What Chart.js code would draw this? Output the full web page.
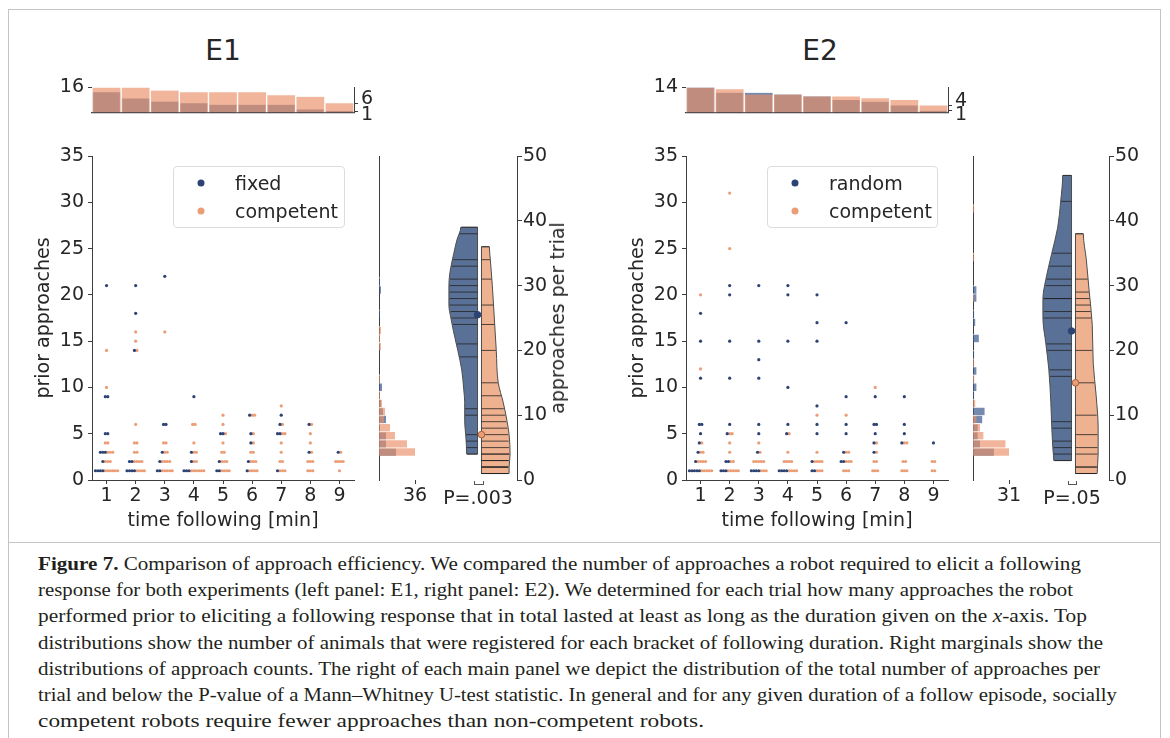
<!DOCTYPE html>
<html>
<head>
<meta charset="utf-8">
<script src="https://cdn.jsdelivr.net/npm/chart.js@4.4.1/dist/chart.umd.min.js"></script>
<style>
  html, body { margin:0; padding:0; background:#fff; }
  #fig { position:relative; width:1170px; height:738px; overflow:hidden; font-family:"DejaVu Sans", sans-serif; color:#262626; background:#fff; }
  #fig canvas { position:absolute; }
  .frame { position:absolute; left:8px; top:9px; width:1153px; height:780px; border:1px solid #c4c4c4; box-sizing:border-box; }
  .sep { position:absolute; left:8px; width:1153px; top:542px; height:1px; background:#c4c4c4; }
  .ptitle { position:absolute; font-size:28px; transform:translate(-50%,-50%); white-space:nowrap; }
  .lbl { position:absolute; font-size:19px; white-space:nowrap; transform:translate(-50%,-50%); }
  .vlbl { position:absolute; font-size:19px; white-space:nowrap; transform:translate(-50%,-50%) rotate(-90deg); }
  .legend { position:absolute; border:1px solid #dcdcdc; border-radius:4px; background:rgba(255,255,255,0.85); box-sizing:border-box; }
  .legend .dot { position:absolute; width:7px; height:7px; border-radius:50%; transform:translate(-50%,-50%); }
  .legend .txt { position:absolute; font-size:19px; transform:translateY(-50%); white-space:nowrap; }
  .bracket { position:absolute; height:4px; border:1px solid #555; border-top:none; box-sizing:border-box; }
  #caption { position:absolute; left:38px; top:551px; font-family:"Liberation Serif", serif; font-size:19.5px; line-height:26.2px; color:#231f20; }
  #caption .ln { white-space:nowrap; transform-origin:0 50%; display:block; width:max-content; }
</style>
</head>
<body>
<div id="fig">
  <div class="frame"></div>
  <div class="sep"></div>
  <div id="caption">
    <span class="ln"><b>Figure 7.</b> Comparison of approach efficiency. We compared the number of approaches a robot required to elicit a following</span>
    <span class="ln">response for both experiments (left panel: E1, right panel: E2). We determined for each trial how many approaches the robot</span>
    <span class="ln">performed prior to eliciting a following response that in total lasted at least as long as the duration given on the <i>x</i>-axis. Top</span>
    <span class="ln">distributions show the number of animals that were registered for each bracket of following duration. Right marginals show the</span>
    <span class="ln">distributions of approach counts. The right of each main panel we depict the distribution of the total number of approaches per</span>
    <span class="ln">trial and below the P-value of a Mann–Whitney U-test statistic. In general and for any given duration of a follow episode, socially</span>
    <span class="ln">competent robots require fewer approaches than non-competent robots.</span>
  </div>
</div>
<script>
// ================= DATA =================
const timeBins = [1, 2, 3, 4, 5, 6, 7, 8, 9];
const priorTicks = [0, 5, 10, 15, 20, 25, 30, 35];
const perTrialTicks = [0, 10, 20, 30, 40, 50];
const panelTitles = ['E1', 'E2'];
const seriesNamesE1 = ['fixed', 'competent'];
const seriesNamesE2 = ['random', 'competent'];
const pValueLabels = ['P=.003', 'P=.05'];

// prior approaches per registered animal, one list per time bin
const e1Fixed = [
  [21, 9, 9, 5, 5, 3, 3, 3, 2, 1, 1, 1, 1],
  [21, 18, 14, 2, 2, 1, 1, 1, 1],
  [22, 6, 6, 3, 2, 1, 1],
  [9, 3, 2, 1, 1, 1],
  [5, 5, 2, 1, 1],
  [7, 5, 4, 2, 1],
  [7, 6, 5, 5, 1],
  [6, 3],
  [3]
];
const e1Competent = [
  [14, 10, 4, 4, 3, 3, 3, 2, 2, 2, 1, 1, 1, 1, 1, 1],
  [16, 15, 14, 6, 4, 4, 3, 3, 2, 2, 2, 2, 1, 1, 1, 1],
  [16, 4, 4, 3, 3, 2, 2, 2, 2, 1, 1, 1, 1, 1],
  [6, 6, 4, 3, 3, 2, 2, 1, 1, 1, 1, 1, 1],
  [7, 6, 5, 4, 3, 3, 2, 2, 2, 1, 1, 1, 1],
  [7, 7, 5, 4, 3, 3, 2, 2, 2, 1, 1, 1, 1],
  [8, 6, 5, 5, 4, 3, 2, 2, 1, 1, 1],
  [6, 5, 4, 3, 2, 2, 2, 1, 1, 1],
  [3, 2, 2, 2, 2, 1]
];
const e2Random = [
  [18, 15, 11, 6, 6, 5, 4, 3, 2, 1, 1, 1, 1, 1],
  [21, 20, 15, 11, 6, 5, 2, 2, 1, 1, 1],
  [21, 15, 13, 11, 6, 5, 3, 1, 1, 1, 1],
  [21, 20, 15, 10, 6, 5, 1, 1, 1, 1],
  [20, 17, 15, 8, 6, 5, 2, 1, 1],
  [17, 9, 6, 5, 3, 2, 2],
  [9, 6, 6, 5, 4, 3],
  [9, 6, 5, 4],
  [4]
];
const e2Competent = [
  [20, 12, 4, 3, 3, 2, 2, 2, 2, 1, 1, 1, 1, 1],
  [31, 25, 5, 5, 4, 3, 2, 2, 1, 1, 1, 1, 1],
  [4, 3, 2, 2, 2, 2, 2, 1, 1, 1],
  [5, 3, 2, 2, 2, 2, 1, 1, 1, 1],
  [7, 3, 2, 2, 2, 2, 1, 1, 1],
  [7, 3, 3, 2, 2, 2, 1, 1, 1],
  [10, 4, 3, 2, 2, 1, 1, 1],
  [4, 4, 2, 2, 1, 1, 1],
  [2, 2, 1, 1]
];

// total approaches per trial (violin sticks)
const e1FixedTotals = [4, 5, 6, 7, 10, 11, 19, 21, 24, 25, 26, 27, 28, 29, 30, 31, 33, 34, 38, 39];
const e1CompetentTotals = [1, 1, 1, 2, 2, 2, 3, 3, 4, 4, 5, 6, 7, 8, 9, 10, 11, 13, 15, 20, 24, 27, 31, 34, 36];
const e2RandomTotals = [3, 4, 5, 6, 8, 9, 16, 17, 20, 21, 25, 26, 28, 28, 30, 31, 33, 35, 43, 47];
const e2CompetentTotals = [1, 1, 2, 2, 4, 5, 7, 10, 15, 20, 25, 26, 27, 28, 29, 31, 38];

// violin density profiles (level -> half width)
const e1FixedLevels = [4, 7, 9, 12, 14, 17, 20, 22, 25, 27, 30, 32, 35, 37, 39];
const e1FixedDensity = [11, 12, 13, 13, 14, 16, 20, 23, 27, 29, 29, 28, 24, 21, 17];
const e1CompetentLevels = [1, 2, 4, 7, 9, 12, 15, 20, 25, 30, 34, 36];
const e1CompetentDensity = [28, 28, 29, 28, 26, 22, 17, 15, 13, 11, 9, 8];
const e2RandomLevels = [3, 5, 8, 12, 17, 21, 25, 28, 31, 35, 39, 43, 47];
const e2RandomDensity = [18, 19, 20, 21, 23, 26, 29, 29, 26, 20, 14, 11, 9];
const e2CompetentLevels = [1, 4, 8, 13, 18, 24, 29, 34, 38];
const e2CompetentDensity = [22, 23, 23, 21, 18, 17, 14, 11, 8];

// ================= STYLE / LAYOUT =================
Chart.defaults.font.family = "'DejaVu Sans', sans-serif";
Chart.defaults.font.size = 19;
Chart.defaults.color = '#262626';
const AX = '#3d3d3d';
const COL = {
  blueDot: '#2d4373', orangeDot: '#eb9d75',
  blueBar: 'rgba(59,89,140,0.7)', orangeBar: 'rgba(232,142,100,0.65)', barEdge: 'rgba(255,255,255,0.6)',
  blueViolin: '#5a7197', orangeViolin: '#efb290', outline: '#4d4d4d', stick: 'rgba(35,35,35,0.8)',
  blueMed: '#2d4373', orangeMed: '#eb9d75', orangeMedEdge: '#a55f3c'
};
const AREA_TOP = 156, AREA_BOTTOM = 480, HIST_TOP = 86, HIST_BOTTOM = 120;
const SWARM_STEP = 0.085;
const fig = document.getElementById('fig');

function canvasAt(l, t, w, h) {
  const c = document.createElement('canvas');
  c.width = w; c.height = h;
  c.style.left = l + 'px'; c.style.top = t + 'px';
  c.style.width = w + 'px'; c.style.height = h + 'px';
  fig.appendChild(c);
  return c;
}
function html(cls, text, l, t, extra) {
  const d = document.createElement('div');
  d.className = cls; d.textContent = text;
  d.style.left = l + 'px'; d.style.top = t + 'px';
  if (extra) Object.assign(d.style, extra);
  fig.appendChild(d);
  return d;
}
function baseOpts() {
  return { responsive: false, animation: false, devicePixelRatio: 1, events: [],
           plugins: { legend: { display: false }, tooltip: { enabled: false } } };
}
function median(a) {
  const s = [...a].sort((p, q) => p - q), n = s.length;
  return n % 2 ? s[(n - 1) / 2] : (s[n / 2 - 1] + s[n / 2]) / 2;
}
function profileAt(lv, den, v) {
  if (v <= lv[0]) return den[0];
  for (let i = 1; i < lv.length; i++) {
    if (v <= lv[i]) { const f = (v - lv[i - 1]) / (lv[i] - lv[i - 1]); return den[i - 1] + f * (den[i] - den[i - 1]); }
  }
  return den[den.length - 1];
}
function valueCounts(bins) {
  const c = [];
  bins.forEach(b => b.forEach(v => { c[v] = (c[v] || 0) + 1; }));
  return c;
}
function swarm(blueBins, orangeBins) {
  const blue = [], orange = [];
  timeBins.forEach((t, i) => {
    const rows = {};
    blueBins[i].forEach(v => (rows[v] = rows[v] || []).push('b'));
    orangeBins[i].forEach(v => (rows[v] = rows[v] || []).push('o'));
    Object.keys(rows).forEach(k => {
      const r = rows[k], n = r.length;
      r.forEach((s, j) => {
        const p = { x: t + (j - (n - 1) / 2) * SWARM_STEP, y: +k };
        (s === 'b' ? blue : orange).push(p);
      });
    });
  });
  return { blue, orange };
}

// ---------- top histogram ----------
function topHistogram(areaL, areaR, blueBins, orangeBins) {
  const bc = blueBins.map(b => b.length), oc = orangeBins.map(b => b.length);
  const maxC = Math.max(...bc, ...oc);
  const minB = Math.min(...bc), minO = Math.min(...oc);
  const upper = Math.max(minB, minO);
  const L = 52, R = 40, T = 14, B = 8;
  const cv = canvasAt(areaL - L, HIST_TOP - T, L + (areaR - areaL) + R, T + (HIST_BOTTOM - HIST_TOP) + B);
  const barDs = (d, c) => ({ data: d, backgroundColor: c, borderColor: COL.barEdge,
    borderWidth: { left: 1, right: 1, top: 0, bottom: 0 }, borderSkipped: false, grouped: false, barPercentage: 1, categoryPercentage: 1 });
  new Chart(cv, {
    type: 'bar',
    data: { labels: timeBins.map(String), datasets: [barDs(oc, COL.orangeBar), barDs(bc, COL.blueBar)] },
    options: Object.assign(baseOpts(), {
      layout: { padding: { top: T, left: 0, right: 0, bottom: 0 } },
      scales: {
        x: { ticks: { display: false }, grid: { display: false }, border: { display: true, color: AX, width: 1.3 },
             afterFit: s => { s.height = B; } },
        y: { min: 0, max: maxC, afterBuildTicks: s => { s.ticks = [{ value: maxC }]; }, afterFit: s => { s.width = L; },
             ticks: { padding: 4, autoSkip: false }, grid: { display: true, drawOnChartArea: false, tickLength: 4, color: AX },
             border: { display: false } },
        y2: { position: 'right', min: 0, max: maxC, afterBuildTicks: s => { s.ticks = [{ value: minB }, { value: minO }]; },
              afterFit: s => { s.width = R; },
              ticks: { padding: 3, autoSkip: false, font: { size: 19, lineHeight: '9px' },
                       callback: v => v === upper ? [String(v), ''] : ['', String(v)] },
              grid: { display: true, drawOnChartArea: false, tickLength: 4, color: AX },
              border: { display: true, color: AX, width: 1 } }
      }
    })
  });
}

// ---------- main scatter ----------
function scatterPanel(areaL, areaR, blueBins, orangeBins) {
  const pts = swarm(blueBins, orangeBins);
  const L = 72, R = 16, T = 16, B = 60;
  const cv = canvasAt(areaL - L, AREA_TOP - T, L + (areaR - areaL) + R, T + (AREA_BOTTOM - AREA_TOP) + B);
  const ds = (d, c) => ({ data: d, backgroundColor: c, borderWidth: 0, pointRadius: 1.6, pointBorderWidth: 0 });
  new Chart(cv, {
    type: 'scatter',
    data: { datasets: [ds(pts.blue, COL.blueDot), ds(pts.orange, COL.orangeDot)] },
    options: Object.assign(baseOpts(), {
      layout: { padding: { top: T, right: R, left: 0, bottom: 0 } },
      scales: {
        x: { type: 'linear', min: 0.5, max: 9.5,
             afterBuildTicks: s => { s.ticks = timeBins.map(v => ({ value: v })); }, afterFit: s => { s.height = B; },
             ticks: { padding: 1, autoSkip: false, maxRotation: 0 },
             grid: { display: true, drawOnChartArea: false, tickLength: 4, color: AX },
             border: { display: true, color: AX, width: 1 },
             title: { display: true, text: 'time following [min]', padding: { top: 0, bottom: 7.6 } } },
        y: { min: 0, max: 35,
             afterBuildTicks: s => { s.ticks = priorTicks.map(v => ({ value: v })); }, afterFit: s => { s.width = L; },
             ticks: { padding: 4, autoSkip: false },
             grid: { display: true, drawOnChartArea: false, tickLength: 4, color: AX },
             border: { display: true, color: AX, width: 1 },
             title: { display: true, text: 'prior approaches', padding: { top: 12.6, bottom: 0 } } }
      }
    })
  });
}

// ---------- right marginal ----------
function marginalPanel(spineX, blueBins, orangeBins) {
  const bc = valueCounts(blueBins), oc = valueCounts(orangeBins);
  const maxV = Math.max(bc.length, oc.length) - 1;
  const ys = []; for (let v = 1; v <= maxV; v++) ys.push(v);
  const maxC = Math.max(...ys.map(v => Math.max(bc[v] || 0, oc[v] || 0)));
  const W = 40, R = 14, T = 16, B = 60;
  const cv = canvasAt(spineX, AREA_TOP - T, W + R, T + (AREA_BOTTOM - AREA_TOP) + B);
  const barDs = (cnt, c) => ({ data: ys.map(v => ({ x: cnt[v] || 0, y: v })), backgroundColor: c, borderColor: COL.barEdge,
    borderWidth: { top: 1, bottom: 0, left: 0, right: 0 }, borderSkipped: false, grouped: false, barPercentage: 1, categoryPercentage: 1 });
  new Chart(cv, {
    type: 'bar',
    data: { datasets: [barDs(oc, COL.orangeBar), barDs(bc, COL.blueBar)] },
    options: Object.assign(baseOpts(), {
      indexAxis: 'y',
      layout: { padding: { top: T, right: R, left: 0, bottom: 0 } },
      scales: {
        y: { type: 'linear', min: 0, max: 35, afterFit: s => { s.width = 0; }, ticks: { display: false },
             grid: { display: false }, border: { display: true, color: AX, width: 1 } },
        x: { type: 'linear', min: 0, max: maxC * W / 36, afterBuildTicks: s => { s.ticks = [{ value: maxC }]; },
             afterFit: s => { s.height = B; }, ticks: { padding: 1, autoSkip: false, maxRotation: 0 },
             grid: { display: true, drawOnChartArea: false, tickLength: 4, color: AX }, border: { display: false } }
      }
    })
  });
}

// ---------- split violins ----------
function violinPanel(center, rightX, blueTotals, orangeTotals, bLv, bDen, oLv, oDen) {
  const half = rightX - center, GAP = 2;
  const PL = 4, R = 44, T = 16, B = 60;
  const cv = canvasAt(center - half - PL, AREA_TOP - T, PL + 2 * half + R, T + (AREA_BOTTOM - AREA_TOP) + B);
  const body = (lv, den, sg, c) => ({
    data: [{ x: sg * GAP, y: lv[0] }, ...lv.map((v, i) => ({ x: sg * (GAP + den[i]), y: v })), { x: sg * GAP, y: lv[lv.length - 1] }],
    fill: { value: sg * GAP }, backgroundColor: c, borderColor: COL.outline, borderWidth: 1, pointRadius: 0,
    cubicInterpolationMode: 'monotone'
  });
  const edge = (lv, sg) => ({ data: [{ x: sg * GAP, y: lv[0] }, { x: sg * GAP, y: lv[lv.length - 1] }],
    fill: false, borderColor: COL.outline, borderWidth: 1, pointRadius: 0 });
  const sticks = (tot, lv, den, sg) => tot.map(v => ({
    data: [{ x: sg * GAP, y: v }, { x: sg * (GAP + 0.97 * profileAt(lv, den, v)), y: v }],
    fill: false, borderColor: COL.stick, borderWidth: 1, pointRadius: 0 }));
  const med = (tot, sg, c, bc) => ({ data: [{ x: sg * GAP, y: median(tot) }], showLine: false, fill: false,
    pointRadius: 3.3, pointBackgroundColor: c, pointBorderColor: bc, pointBorderWidth: 1, clip: false });
  new Chart(cv, {
    type: 'line',
    data: { datasets: [
      med(blueTotals, -1, COL.blueMed, COL.blueMed),
      med(orangeTotals, 1, COL.orangeMed, COL.orangeMedEdge),
      ...sticks(blueTotals, bLv, bDen, -1),
      ...sticks(orangeTotals, oLv, oDen, 1),
      edge(bLv, -1), edge(oLv, 1),
      body(bLv, bDen, -1, COL.blueViolin),
      body(oLv, oDen, 1, COL.orangeViolin)
    ] },
    options: Object.assign(baseOpts(), {
      indexAxis: 'y',
      layout: { padding: { top: T, right: 0, left: PL, bottom: B } },
      scales: {
        x: { type: 'linear', min: -half, max: half, display: false },
        y: { type: 'linear', position: 'right', min: 0, max: 50,
             afterBuildTicks: s => { s.ticks = perTrialTicks.map(v => ({ value: v })); }, afterFit: s => { s.width = R; },
             ticks: { padding: 1, autoSkip: false },
             grid: { display: true, drawOnChartArea: false, tickLength: 5, color: AX },
             border: { display: true, color: AX, width: 1 } }
      }
    })
  });
}

function legendBox(l, t, w, names) {
  const box = document.createElement('div');
  box.className = 'legend';
  Object.assign(box.style, { left: l + 'px', top: t + 'px', width: w + 'px', height: '62px' });
  [[names[0], COL.blueDot, 16], [names[1], COL.orangeDot, 44]].forEach(([n, c, y]) => {
    const d = document.createElement('div'); d.className = 'dot';
    Object.assign(d.style, { left: '27px', top: y + 'px', background: c }); box.appendChild(d);
    const tx = document.createElement('div'); tx.className = 'txt'; tx.textContent = n;
    Object.assign(tx.style, { left: '61px', top: y + 'px' }); box.appendChild(tx);
  });
  fig.appendChild(box);
}

// ================= BUILD =================
// Panel E1
topHistogram(92, 354, e1Fixed, e1Competent);
scatterPanel(92, 354, e1Fixed, e1Competent);
marginalPanel(379, e1Fixed, e1Competent);
violinPanel(479, 517, e1FixedTotals, e1CompetentTotals, e1FixedLevels, e1FixedDensity, e1CompetentLevels, e1CompetentDensity);
// Panel E2
topHistogram(686, 948, e2Random, e2Competent);
scatterPanel(686, 948, e2Random, e2Competent);
marginalPanel(973, e2Random, e2Competent);
violinPanel(1073, 1109, e2RandomTotals, e2CompetentTotals, e2RandomLevels, e2RandomDensity, e2CompetentLevels, e2CompetentDensity);

html('ptitle', panelTitles[0], 223, 50);
html('ptitle', panelTitles[1], 820, 50);
legendBox(173, 166, 172, seriesNamesE1);
legendBox(767, 166, 171, seriesNamesE2);
html('vlbl', 'approaches per trial', 557, 318);
html('lbl', pValueLabels[0], 478, 497);
html('lbl', pValueLabels[1], 1072, 497);
html('bracket', '', 474, 481, { width: '10px' });
html('bracket', '', 1068, 481, { width: '9px' });

// caption line fitting
const capEnds = [1081, 1073, 1087, 1103, 1100, 1117, 704];
document.querySelectorAll('#caption .ln').forEach((el, i) => {
  const w = el.getBoundingClientRect().width;
  const s = (capEnds[i] - 38) / w;
  if (s > 0.8 && s < 1.25) el.style.transform = 'scaleX(' + s.toFixed(4) + ')';
});
</script>
</body>
</html>
